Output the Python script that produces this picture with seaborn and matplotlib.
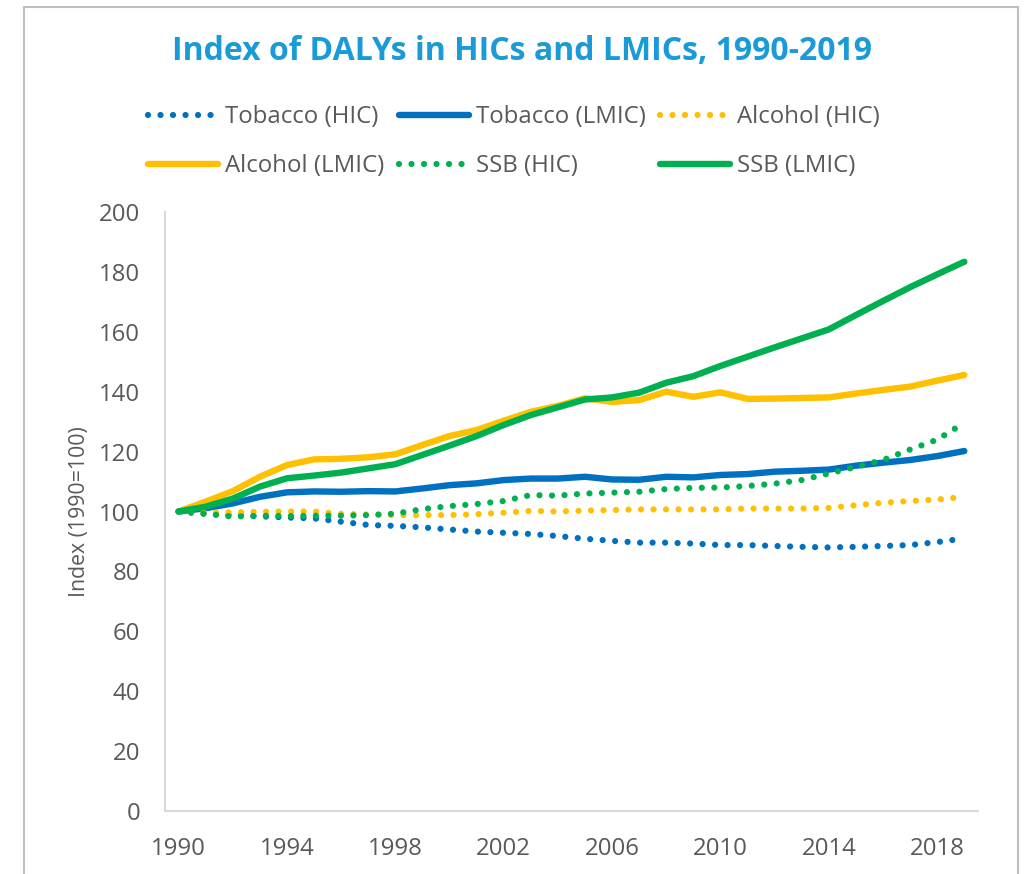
import numpy as np
import pandas as pd
import matplotlib
matplotlib.use("Agg")
import matplotlib.pyplot as plt
from matplotlib.patches import Rectangle
import seaborn as sns

# years on the category axis
years = list(range(1990, 2020))

# index values (1990 = 100)
tobacco_hic = [100, 99.3, 98.8, 98.4, 98.0, 97.7, 96.6, 95.5, 95.2, 94.7,
               94.0, 93.3, 92.9, 92.5, 91.8, 90.9, 90.2, 89.6, 89.6, 89.3,
               88.8, 88.8, 88.5, 88.2, 88.0, 88.2, 88.5, 88.8, 89.8, 91.0]
tobacco_lmic = [100, 101.1, 102.7, 104.9, 106.4, 106.7, 106.6, 106.8, 106.7, 107.7,
                108.8, 109.4, 110.5, 111.0, 111.0, 111.6, 110.7, 110.6, 111.6, 111.4,
                112.2, 112.5, 113.3, 113.6, 114.0, 115.3, 116.3, 117.2, 118.5, 120.2]
alcohol_hic = [100, 99.6, 99.7, 99.9, 100.0, 100.0, 99.2, 99.0, 98.8, 98.8,
               98.8, 99.1, 99.6, 100.2, 100.0, 100.3, 100.5, 100.7, 100.7, 100.7,
               100.7, 101.0, 101.0, 101.0, 101.2, 102.1, 102.9, 103.5, 104.0, 104.9]
alcohol_lmic = [100, 103.3, 106.8, 111.6, 115.5, 117.4, 117.6, 118.1, 119.1, 122.2,
                125.2, 127.2, 130.3, 133.3, 135.3, 137.8, 136.6, 137.2, 140.0, 138.3,
                139.8, 137.6, 137.7, 137.9, 138.1, 139.4, 140.6, 141.7, 143.7, 145.6]
ssb_hic = [100, 99.2, 98.3, 98.6, 98.5, 98.6, 98.6, 98.8, 99.3, 100.8,
           101.8, 102.5, 103.5, 105.5, 105.3, 106.0, 106.3, 106.6, 107.5, 107.9,
           108.0, 108.5, 109.3, 110.5, 112.7, 114.9, 117.2, 120.7, 124.0, 129.6]
ssb_lmic = [100, 101.6, 104.3, 108.3, 111.1, 112.0, 113.0, 114.4, 115.8, 118.9,
            122.0, 125.2, 128.9, 132.2, 134.8, 137.4, 138.1, 139.7, 143.0, 145.2,
            148.6, 151.7, 154.8, 157.8, 160.8, 165.6, 170.3, 174.9, 179.2, 183.4]

series_names = ["Tobacco (HIC)", "Tobacco (LMIC)", "Alcohol (HIC)",
                "Alcohol (LMIC)", "SSB (HIC)", "SSB (LMIC)"]
series_values = [tobacco_hic, tobacco_lmic, alcohol_hic,
                 alcohol_lmic, ssb_hic, ssb_lmic]
series_colors = ["#0070C0", "#0070C0", "#FFC000", "#FFC000", "#00B050", "#00B050"]
series_dotted = [True, False, True, False, True, False]

sns.set_style("white")
plt.rcParams["font.family"] = ["Open Sans", "DejaVu Sans"]

fig = plt.figure(figsize=(10.25, 8.74), dpi=100)
ax = fig.add_axes([0.161, 0.0721, 0.793, 0.6853])

grey = "#595959"
for name, vals, col, dotted in zip(series_names, series_values,
                                   series_colors, series_dotted):
    if dotted:
        sns.lineplot(x=years, y=vals, ax=ax, color=col, linewidth=4.5,
                     linestyle=(0, (0.001, 2.0)), dash_capstyle="round",
                     label=name)
    else:
        sns.lineplot(x=years, y=vals, ax=ax, color=col, linewidth=4.6,
                     solid_capstyle="round", label=name)

ax.set_xlim(1989.5, 2019.5)
ax.set_ylim(0, 200)
ax.set_xticks(list(range(1990, 2019, 4)))
ax.set_yticks(list(range(0, 201, 20)))
ax.tick_params(axis="both", length=0, labelsize=17.3, colors=grey)
ax.tick_params(axis="x", pad=19)
ax.tick_params(axis="y", pad=18)
ax.set_ylabel("Index (1990=100)", fontsize=15.3, color=grey, labelpad=6)
ax.set_xlabel("")

for side in ["top", "right"]:
    ax.spines[side].set_visible(False)
for side in ["left", "bottom"]:
    ax.spines[side].set_color("#D9D9D9")
    ax.spines[side].set_linewidth(1.5)

# legend filled row by row like the original
h, l = ax.get_legend_handles_labels()
order = [0, 3, 1, 4, 2, 5]
ax.legend([h[i] for i in order], [l[i] for i in order], ncol=3,
          loc="center", bbox_to_anchor=(0.5015, 0.838),
          bbox_transform=fig.transFigure, frameon=False,
          fontsize=17.3, labelcolor=grey, handlelength=2.9,
          handletextpad=0.3, columnspacing=0.6, labelspacing=1.05,
          borderpad=0)

fig.text(0.5088, 0.941, "Index of DALYs in HICs and LMICs, 1990-2019",
         ha="center", va="center", fontsize=23, fontweight="bold",
         color="#1A9BD7")

# light grey chart border, cut off at the bottom
fig.patches.append(Rectangle((24 / 1025, -0.05), 994 / 1025, 1.05 - 7 / 874,
                             transform=fig.transFigure, fill=False,
                             edgecolor="#BFBFBF", linewidth=1.5))

fig.savefig("out.png", dpi=100)
